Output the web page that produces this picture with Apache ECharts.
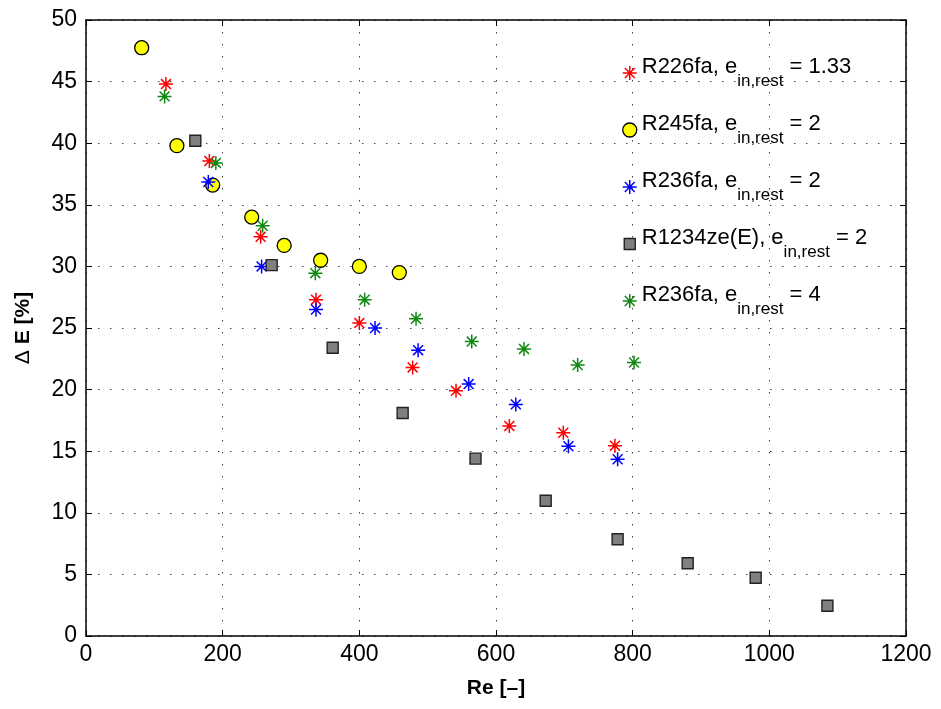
<!DOCTYPE html>
<html><head><meta charset="utf-8">
<script src="https://cdn.jsdelivr.net/npm/echarts@6/dist/echarts.min.js"></script>
<style>html,body{margin:0;padding:0;background:#fff}#c{width:941px;height:709px}</style>
</head><body><div id="c"></div>
<script>
// Data
var r226fa_133_x = [117, 180.5, 255.6, 336.6, 400, 478, 541.5, 619.5, 698.5, 774];
var r226fa_133_y = [44.8, 38.55, 32.4, 27.3, 25.4, 21.8, 19.9, 17.05, 16.5, 15.45];
var r245fa_2_x = [81.5, 133, 185.4, 242.5, 290, 343.4, 400, 458.5];
var r245fa_2_y = [47.75, 39.8, 36.6, 34.0, 31.7, 30.5, 30.0, 29.5];
var r236fa_2_x = [179, 257, 336.6, 423, 486, 560, 629, 706, 778];
var r236fa_2_y = [36.85, 30.0, 26.5, 25.0, 23.2, 20.45, 18.8, 15.4, 14.35];
var r1234ze_2_x = [160, 271.7, 361, 463.4, 570, 672.7, 778, 880.5, 980, 1085];
var r1234ze_2_y = [40.2, 30.1, 23.4, 18.1, 14.4, 10.98, 7.85, 5.9, 4.73, 2.46];
var r236fa_4_x = [115, 190, 258.5, 335.6, 407.8, 483, 564.5, 641, 719.5, 802];
var r236fa_4_y = [43.8, 38.4, 33.3, 29.45, 27.3, 25.75, 23.9, 23.3, 22.0, 22.2];
var seriesNames = ['R226fa|1.33', 'R245fa|2', 'R236fa|2', 'R1234ze(E)|2', 'R236fa|4'];
var xTicks = [0, 200, 400, 600, 800, 1000, 1200];
var yTicks = [0, 5, 10, 15, 20, 25, 30, 35, 40, 45, 50];

function pairs(xs, ys) { return xs.map(function (x, i) { return [x, ys[i]]; }); }
var STAR = 'path://M5,0L5,10M0,5L10,5M1.46,1.46L8.54,8.54M1.46,8.54L8.54,1.46';
var SMALL_RECT = 'path://M0,0L0.001,0M14,14L14.001,14M1.5,1.5L12.5,1.5L12.5,12.5L1.5,12.5Z';

function starSeries(name, data, color) {
  return { name: name, type: 'scatter', data: data, symbol: STAR, symbolSize: 14,
    itemStyle: { color: 'rgba(0,0,0,0)', borderColor: color, borderWidth: 1.5, opacity: 1 },
    emphasis: { disabled: true }, z: 3 };
}
var series = [
  starSeries(seriesNames[0], pairs(r226fa_133_x, r226fa_133_y), '#ff0000'),
  { name: seriesNames[1], type: 'scatter', data: pairs(r245fa_2_x, r245fa_2_y), symbol: 'circle', symbolSize: 14,
    itemStyle: { color: '#ffff00', borderColor: '#000', borderWidth: 1.3, opacity: 1 }, emphasis: { disabled: true }, z: 3 },
  starSeries(seriesNames[2], pairs(r236fa_2_x, r236fa_2_y), '#0000ff'),
  { name: seriesNames[3], type: 'scatter', data: pairs(r1234ze_2_x, r1234ze_2_y), symbol: 'rect', symbolSize: 11,
    itemStyle: { color: '#808080', borderColor: '#222', borderWidth: 1.4, opacity: 1 }, emphasis: { disabled: true }, z: 3 },
  starSeries(seriesNames[4], pairs(r236fa_4_x, r236fa_4_y), '#118811')
];

var legendBorders = [1.5, 1.3, 1.5, 1.4, 1.5];

var FONT = '"Liberation Sans", Arial, Helvetica, sans-serif';
var grid = { left: 86, right: 35, top: 20, bottom: 73, containLabel: false };
var gridLine = { show: true, lineStyle: { color: '#444', type: [1.5, 10.5], width: 1 } };

var chart = echarts.init(document.getElementById('c'), null, { renderer: 'canvas' });
chart.setOption({
  animation: false,
  backgroundColor: '#fff',
  grid: grid,
  legend: {
    orient: 'vertical', left: 622, top: 56, padding: 0,
    itemWidth: 14, itemHeight: 14, itemGap: 23,
    data: seriesNames.map(function (n, i) {
      var d = { name: n, itemStyle: { borderWidth: legendBorders[i] } };
      if (i === 3) d.icon = SMALL_RECT;
      return d;
    }),
    formatter: function (n) {
      var p = n.split('|');
      return '{a|' + p[0] + ', e}{s|in,rest}{a| = ' + p[1] + '}';
    },
    textStyle: {
      fontFamily: FONT, color: '#000',
      rich: {
        a: { fontSize: 22, fontFamily: FONT, color: '#000', lineHeight: 25, verticalAlign: 'top' },
        s: { fontSize: 17, fontFamily: FONT, color: '#000', lineHeight: 34, verticalAlign: 'bottom' }
      }
    }
  },
  xAxis: [{
    type: 'value', min: 0, max: 1200, interval: 200, position: 'bottom',
    name: 'Re [–]', nameLocation: 'middle', nameGap: 42,
    nameTextStyle: { fontFamily: FONT, fontSize: 21, fontWeight: 'bold', color: '#000' },
    axisLine: { show: true, onZero: false, lineStyle: { color: '#000', width: 1.5 } },
    axisTick: { show: true, inside: true, length: 6, lineStyle: { color: '#000', width: 1 } },
    axisLabel: { margin: 7, fontFamily: FONT, fontSize: 23, color: '#000',
      formatter: function (v) { return xTicks.indexOf(v) >= 0 ? String(v) : ''; } },
    splitLine: gridLine
  }, {
    type: 'value', min: 0, max: 1200, interval: 200, position: 'top',
    axisLine: { show: true, onZero: false, lineStyle: { color: '#000', width: 1.5 } },
    axisTick: { show: true, inside: true, length: 6, lineStyle: { color: '#000', width: 1 } },
    axisLabel: { show: false }, splitLine: { show: false }
  }],
  yAxis: [{
    type: 'value', min: 0, max: 50, interval: 5, position: 'left',
    name: '{d|Δ} E [%]', nameLocation: 'middle', nameGap: 52,
    nameTextStyle: { fontFamily: FONT, fontSize: 21, fontWeight: 'bold', color: '#000',
      rich: { d: { fontFamily: FONT, fontSize: 21, fontWeight: 'normal', color: '#000' } } },
    axisLine: { show: true, onZero: false, lineStyle: { color: '#000', width: 1.5 } },
    axisTick: { show: true, inside: true, length: 6, lineStyle: { color: '#000', width: 1 } },
    axisLabel: { margin: 9, fontFamily: FONT, fontSize: 23, color: '#000',
      formatter: function (v) { return yTicks.indexOf(v) >= 0 ? String(v) : ''; } },
    splitLine: gridLine
  }, {
    type: 'value', min: 0, max: 50, interval: 5, position: 'right',
    axisLine: { show: true, onZero: false, lineStyle: { color: '#000', width: 1.5 } },
    axisTick: { show: true, inside: true, length: 6, lineStyle: { color: '#000', width: 1 } },
    axisLabel: { show: false }, splitLine: { show: false }
  }],
  series: series
});
</script></body></html>
